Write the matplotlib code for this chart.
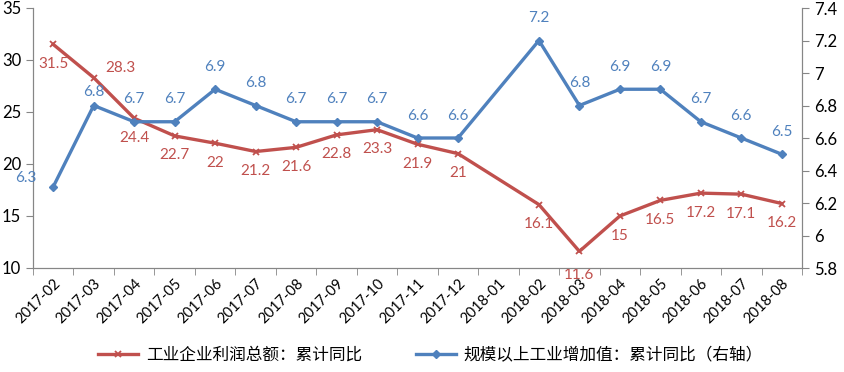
import numpy as np
import matplotlib
matplotlib.use("Agg")
import matplotlib.pyplot as plt

plt.rcParams['font.family'] = ['Lato', 'Noto Sans CJK SC', 'DejaVu Sans']

months = ["2017-02", "2017-03", "2017-04", "2017-05", "2017-06", "2017-07", "2017-08",
          "2017-09", "2017-10", "2017-11", "2017-12", "2018-01", "2018-02", "2018-03",
          "2018-04", "2018-05", "2018-06", "2018-07", "2018-08"]
profit = [31.5, 28.3, 24.4, 22.7, 22, 21.2, 21.6, 22.8, 23.3, 21.9, 21,
          None, 16.1, 11.6, 15, 16.5, 17.2, 17.1, 16.2]
output = [6.3, 6.8, 6.7, 6.7, 6.9, 6.8, 6.7, 6.7, 6.7, 6.6, 6.6,
          None, 7.2, 6.8, 6.9, 6.9, 6.7, 6.6, 6.5]

red = "#C0504D"
blue = "#4F81BD"
axis_grey = "#868686"

fig = plt.figure(figsize=(8.44, 3.72), dpi=100)
ax = fig.add_axes([33 / 844, 1 - 268 / 372, (802 - 33) / 844, (268 - 8) / 372])
ax2 = ax.twinx()

# skip the missing month, the line runs straight across it
xp = [i for i, v in enumerate(profit) if v is not None]
yp = [profit[i] for i in xp]
xo = [i for i, v in enumerate(output) if v is not None]
yo = [output[i] for i in xo]

l1, = ax.plot(xp, yp, color=red, lw=2.4, marker='x', ms=5, mew=1.3,
              label="工业企业利润总额：累计同比")
l2, = ax2.plot(xo, yo, color=blue, lw=2.4, marker='D', ms=4,
               label="规模以上工业增加值：累计同比（右轴）")

ax.set_xlim(-0.5, len(months) - 0.5)
ax.set_ylim(10, 35)
ax.set_yticks(np.arange(10, 36, 5))
ax2.set_ylim(5.8, 7.4)
ax2.set_yticks(np.arange(5.8, 7.41, 0.2))
ax2.set_yticklabels(["5.8", "6", "6.2", "6.4", "6.6", "6.8", "7", "7.2", "7.4"])

ax.set_xticks(np.arange(len(months)))
ax.set_xticklabels(months, rotation=45, ha='right', rotation_mode='anchor', fontsize=10.5)
ax.set_xticks(np.arange(-0.5, len(months)), minor=True)
ax.tick_params(axis='x', which='major', length=0, pad=6)
ax.tick_params(axis='x', which='minor', length=5, color=axis_grey)
ax.tick_params(axis='y', length=5, color=axis_grey, labelsize=12)
ax2.tick_params(axis='y', length=5, color=axis_grey, labelsize=12)

for a in (ax, ax2):
    a.spines['top'].set_visible(False)
    for s in ('left', 'right', 'bottom'):
        a.spines[s].set_color(axis_grey)

# data labels
for i, v in zip(xp, yp):
    dx, dy, ha, va = 0, -9, 'center', 'top'
    if months[i] == "2017-03":
        dx, dy, ha, va = 8, 2, 'left', 'bottom'
    elif months[i] == "2018-03":
        dy = -12
    ax.annotate(f"{v:g}", (i, v), xytext=(dx, dy), textcoords='offset points',
                ha=ha, va=va, color=red, fontsize=11)
for i, v in zip(xo, yo):
    dx, dy, ha, va = 0, 11, 'center', 'bottom'
    if months[i] == "2017-02":
        dx, dy, ha, va = -12, 6, 'right', 'center'
    elif months[i] == "2017-03":
        dy = 5
    ax2.annotate(f"{v:g}", (i, v), xytext=(dx, dy), textcoords='offset points',
                 ha=ha, va=va, color=blue, fontsize=11)

fig.legend(handles=[l1, l2], loc='center', bbox_to_anchor=(0.51, 1 - 355 / 372),
           ncol=2, frameon=False, fontsize=12, handlelength=2.4,
           handletextpad=0.5, columnspacing=3.2)

fig.savefig("out.png", dpi=100)
